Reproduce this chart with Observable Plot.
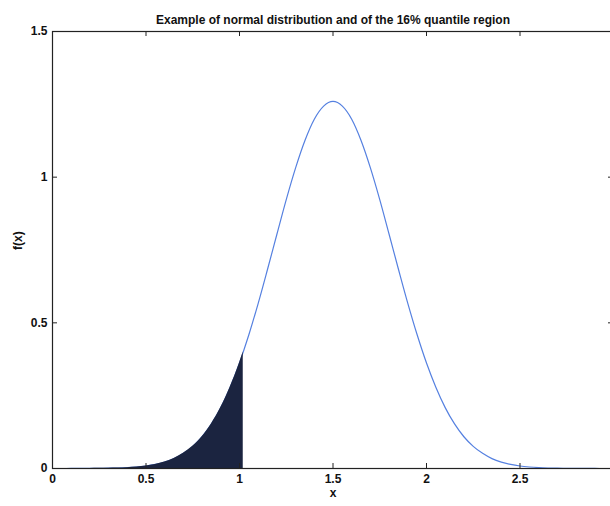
<!DOCTYPE html>
<html><head><meta charset="utf-8">
<script src="https://cdn.jsdelivr.net/npm/d3@7"></script>
<script src="https://cdn.jsdelivr.net/npm/@observablehq/plot@0.6"></script>
<style>html,body{margin:0;padding:0;overflow:hidden;background:#fff}</style>
</head><body><div id="chart"></div>
<script>
const title = "Example of normal distribution and of the 16% quantile region";
const xLabel = "x";
const yLabel = "f(x)";
const xTicks = [0, 0.5, 1, 1.5, 2, 2.5, 3];
const yTicks = [0, 0.5, 1, 1.5];
const xTickLabels = ["0", "0.5", "1", "1.5", "2", "2.5", ""];
const yTickLabels = ["0", "0.5", "1", "1.5"];

// density curve
const curveX = [0,0.05,0.1,0.15,0.2,0.25,0.3,0.35,0.4,0.45,0.5,0.55,0.6,0.65,0.7,0.75,0.8,0.85,0.9,0.95,1.0,1.02,1.05,1.1,1.15,1.2,1.25,1.3,1.35,1.4,1.45,1.5,1.55,1.6,1.65,1.7,1.75,1.8,1.85,1.9,1.95,2.0,2.05,2.1,2.15,2.2,2.25,2.3,2.35,2.4,2.45,2.5,2.55,2.6,2.65,2.7,2.75,2.8,2.85,2.9,2.95,3.0];
const curveY = [0,0,0.0001,0.0001,0.0003,0.0005,0.001,0.0017,0.003,0.0052,0.0086,0.014,0.022,0.034,0.052,0.076,0.109,0.153,0.209,0.279,0.362,0.40,0.459,0.567,0.684,0.804,0.923,1.032,1.126,1.199,1.244,1.26,1.244,1.199,1.126,1.032,0.923,0.804,0.684,0.567,0.459,0.362,0.279,0.209,0.153,0.109,0.076,0.052,0.034,0.022,0.014,0.0086,0.0052,0.003,0.0017,0.001,0.0005,0.0003,0.0001,0.0001,0,0];
// shaded lower-tail region ends here
const shadeEnd = 1.02;

const curve = curveX.map((x, i) => ({x, y: curveY[i]}));
const shade = curve.filter(d => d.x <= shadeEnd);

const W = 620, H = 506, mL = 52, mR = 7, mT = 31, mB = 38;
const pw = W - mL - mR, ph = H - mT - mB;
const font = "Liberation Sans, Arial, sans-serif";
const lab = (ticks, labels) => d => labels[ticks.indexOf(d)];

const chart = Plot.plot({
  width: W, height: H,
  marginLeft: mL, marginRight: mR, marginTop: mT, marginBottom: mB,
  style: {fontFamily: font, fontSize: "12px", color: "#111", background: "#fff", overflow: "visible", maxWidth: "none"},
  x: {domain: [0, 3], ticks: xTicks, tickFormat: lab(xTicks, xTickLabels), label: null},
  y: {domain: [0, 1.5], ticks: yTicks, tickFormat: lab(yTicks, yTickLabels), label: null},
  marks: [
    Plot.line(curve, {x: "x", y: "y", stroke: "#5580e0", strokeWidth: 1.2, curve: "monotone-x"}),
    Plot.areaY(shade, {x: "x", y: "y", fill: "#1b2440", curve: "monotone-x"}),
    Plot.frame({stroke: "#222", strokeWidth: 1.2}),
    Plot.tickX(xTicks, {x: d => d, stroke: "#222", insetTop: ph - 5}),
    Plot.tickX(xTicks, {x: d => d, stroke: "#222", insetBottom: ph - 5}),
    Plot.tickY(yTicks, {y: d => d, stroke: "#222", insetRight: pw - 5}),
    Plot.tickY(yTicks, {y: d => d, stroke: "#222", insetLeft: pw - 5}),
    Plot.axisX({ticks: xTicks, tickSize: 0, tickPadding: 6, label: null, fontSize: 12, fontWeight: "bold", tickFormat: lab(xTicks, xTickLabels)}),
    Plot.axisY({ticks: yTicks, tickSize: 0, tickPadding: 5, label: null, fontSize: 12, fontWeight: "bold", tickFormat: lab(yTicks, yTickLabels)}),
    Plot.text([title], {frameAnchor: "top", dy: -16, text: d => d, fontSize: 12, fontWeight: "bold", fill: "#111"}),
    Plot.text([xLabel], {frameAnchor: "bottom", dy: 28, text: d => d, fontSize: 12, fontWeight: "bold", fill: "#111"}),
    Plot.text([yLabel], {frameAnchor: "left", dx: -34, rotate: -90, text: d => d, fontSize: 12, fontWeight: "bold", fill: "#111"})
  ]
});
document.getElementById("chart").append(chart);
</script>
</body></html>
